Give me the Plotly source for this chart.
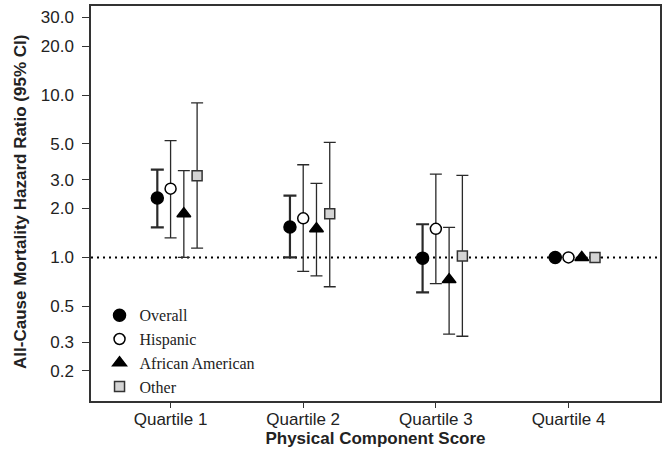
import plotly.graph_objects as go

quartiles = ["Quartile 1", "Quartile 2", "Quartile 3", "Quartile 4"]
groups = ["Overall", "Hispanic", "African American", "Other"]

# hazard ratios and 95% CI per group (Q1..Q4); Q4 is the reference
hr = {
    "Overall": [2.32, 1.54, 0.99, 1.0],
    "Hispanic": [2.65, 1.74, 1.50, 1.0],
    "African American": [1.86, 1.50, 0.73, 1.0],
    "Other": [3.18, 1.86, 1.02, 1.0],
}
ci_low = {
    "Overall": [1.53, 1.0, 0.61, None],
    "Hispanic": [1.32, 0.82, 0.69, None],
    "African American": [1.0, 0.77, 0.337, None],
    "Other": [1.14, 0.66, 0.327, None],
}
ci_high = {
    "Overall": [3.47, 2.40, 1.60, None],
    "Hispanic": [5.24, 3.72, 3.26, None],
    "African American": [3.42, 2.86, 1.53, None],
    "Other": [8.95, 5.11, 3.20, None],
}
y_ticks = [0.2, 0.3, 0.5, 1, 2, 3, 5, 10, 20, 30]

# marker look and horizontal dodge for each group
styles = {
    "Overall": dict(symbol="circle", color="black", line="black", size=12, dx=-0.1, bw=2.2, cap=6.5),
    "Hispanic": dict(symbol="circle", color="white", line="black", size=11, dx=0.0, bw=1.3, cap=6),
    "African American": dict(symbol="triangle-up", color="black", line="black", size=12, dx=0.1, bw=1.3, cap=6),
    "Other": dict(symbol="square", color="#d4d4d4", line="#333333", size=10, dx=0.2, bw=1.3, cap=6),
}

fig = go.Figure()

for g in groups:
    s = styles[g]
    xs = [i + 1 + s["dx"] for i in range(len(quartiles))]
    plus = [None if h is None else h - v for v, h in zip(hr[g], ci_high[g])]
    minus = [None if l is None else v - l for v, l in zip(hr[g], ci_low[g])]
    fig.add_trace(go.Scatter(
        x=xs, y=hr[g], mode="markers", name=g,
        marker=dict(symbol=s["symbol"], color=s["color"], size=s["size"],
                    line=dict(color=s["line"], width=1.5)),
        error_y=dict(type="data", array=plus, arrayminus=minus, symmetric=False,
                     color="#2a2a2a", thickness=s["bw"], width=s["cap"]),
    ))

# reference line at HR = 1
fig.add_shape(type="line", xref="paper", x0=0, x1=1, yref="y", y0=1, y1=1,
              line=dict(color="black", width=2, dash="2px,4px"), layer="below")

# y title as annotation so it can sit close to the edge
fig.add_annotation(
    text="<b>All-Cause Mortality Hazard Ratio (95% CI)</b>",
    xref="paper", yref="paper", x=-0.124, y=0.505, textangle=-90,
    xanchor="center", yanchor="middle", showarrow=False,
    font=dict(size=17, color="#222222"),
)

fig.update_layout(
    width=666, height=456,
    margin=dict(l=91, r=4, t=4, b=55),
    plot_bgcolor="white", paper_bgcolor="white",
    font=dict(family="Liberation Sans, Arial, sans-serif", size=17, color="#222222"),
    legend=dict(x=0.015, y=0.26, xanchor="left", yanchor="top",
                font=dict(family="Liberation Serif, Times New Roman, serif", size=16, color="#222222"),
                bgcolor="rgba(0,0,0,0)", tracegroupgap=0, itemwidth=30),
)
fig.update_xaxes(
    range=[0.4, 4.69], tickvals=[1, 2, 3, 4], ticktext=quartiles,
    showgrid=False, zeroline=False, showline=True, mirror=True,
    linecolor="#333333", linewidth=1.5, ticks="outside", ticklen=5, tickcolor="#333333",
    ticklabelstandoff=-3,
    title=dict(text="<b>Physical Component Score</b>", standoff=4, font=dict(size=17)),
)
fig.update_yaxes(
    type="log", range=[-0.884, 1.548], tickvals=y_ticks, tickformat=".1f",
    showgrid=False, zeroline=False, showline=True, mirror=True,
    linecolor="#333333", linewidth=1.5, ticks="outside", ticklen=7, tickcolor="#333333",
    ticklabelstandoff=5,
)

fig.write_html("out.html", config={"displayModeBar": False},
               post_script="document.body.style.margin='0';")
